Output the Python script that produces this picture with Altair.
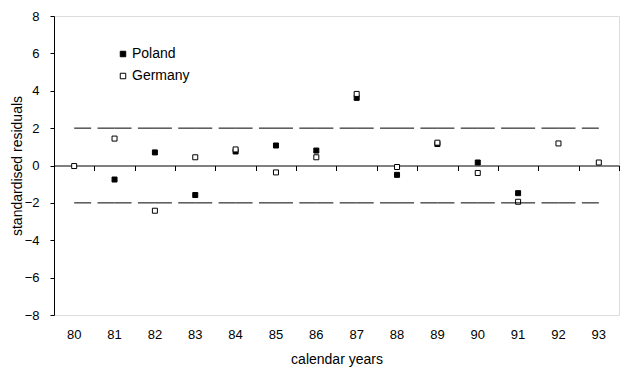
import altair as alt
import pandas as pd

years = ["80", "81", "82", "83", "84", "85", "86", "87", "88", "89", "90", "91", "92", "93"]
poland = [None, -0.75, 0.70, -1.58, 0.75, 1.07, 0.80, 3.62, -0.50, 1.15, 0.16, -1.48, None, None]
germany = [-0.03, 1.44, -2.42, 0.44, 0.86, -0.37, 0.44, 3.83, -0.08, 1.22, -0.40, -1.94, 1.18, 0.16]
limits = [2, -2]
ytick_values = [-8, -6, -4, -2, 0, 2, 4, 6, 8]

rows = []
for y, v in zip(years, poland):
    if v is not None:
        rows.append({"year": y, "value": v, "country": "Poland"})
for y, v in zip(years, germany):
    if v is not None:
        rows.append({"year": y, "value": v, "country": "Germany"})
pts = pd.DataFrame(rows)

lim_rows = []
for lv in limits:
    for y in years:
        lim_rows.append({"year": y, "value": lv, "grp": str(lv)})
lims = pd.DataFrame(lim_rows)

FONT = "Liberation Sans"
W, H = 565, 299

xscale = alt.Scale(type="band", domain=years, paddingInner=0, paddingOuter=0)
yscale = alt.Scale(domain=[-8, 8], nice=False, zero=False)

yaxis = alt.Axis(title="standardised residuals", values=ytick_values, tickCount=9,
                 tickSize=4, labelPadding=11, labelFontSize=13, titleFontSize=14,
                 titleFontWeight="normal", titlePadding=0, grid=False,
                 labelOverlap=False, labelFlush=False,
                 domainColor="black", tickColor="black", labelColor="black",
                 titleColor="black", labelFont=FONT, titleFont=FONT)

points = alt.Chart(pts).mark_point(
    shape="square", filled=True, size=25, stroke="black", strokeWidth=1, opacity=1
).encode(
    x=alt.X("year:N", scale=xscale, sort=years,
            axis=alt.Axis(title="calendar years", orient="bottom", ticks=False, domain=False,
                          labelAngle=0, labelFontSize=13, labelPadding=13, titleFontSize=14,
                          titleFontWeight="normal", titlePadding=11, labelColor="black",
                          titleColor="black", labelFont=FONT, titleFont=FONT, grid=False)),
    y=alt.Y("value:Q", scale=yscale, axis=yaxis),
    fill=alt.Fill("country:N",
                  scale=alt.Scale(domain=["Poland", "Germany"], range=["black", "white"]),
                  legend=alt.Legend(title=None, orient="none", legendX=62, legendY=31,
                                    symbolType="square", symbolSize=30,
                                    symbolStrokeColor="black", symbolStrokeWidth=1,
                                    labelFontSize=14, labelFont=FONT, labelColor="black",
                                    rowPadding=8, labelOffset=2)),
)

zero_axis = alt.Chart(lims).mark_line(
    stroke="black", strokeWidth=1, strokeDash=[34, 6.36], strokeDashOffset=17
).encode(
    x=alt.X("year:N", scale=xscale, sort=years,
            axis=alt.Axis(title=None, orient="bottom", labels=False, ticks=True,
                          tickBand="extent", tickSize=5, tickColor="black",
                          domainColor="black", offset=-H / 2, grid=False)),
    y=alt.Y("value:Q", scale=yscale, axis=yaxis),
    detail="grp:N",
)

chart = alt.layer(points, zero_axis).resolve_axis(x="independent").properties(
    width=W, height=H,
    autosize=alt.AutoSizeParams(type="none"),
    padding={"left": 46, "top": 8, "right": 10, "bottom": 52},
).configure_view(stroke="black", strokeWidth=1).configure(background="white")

chart.save("out.html", embed_options={"renderer": "svg", "actions": False})
